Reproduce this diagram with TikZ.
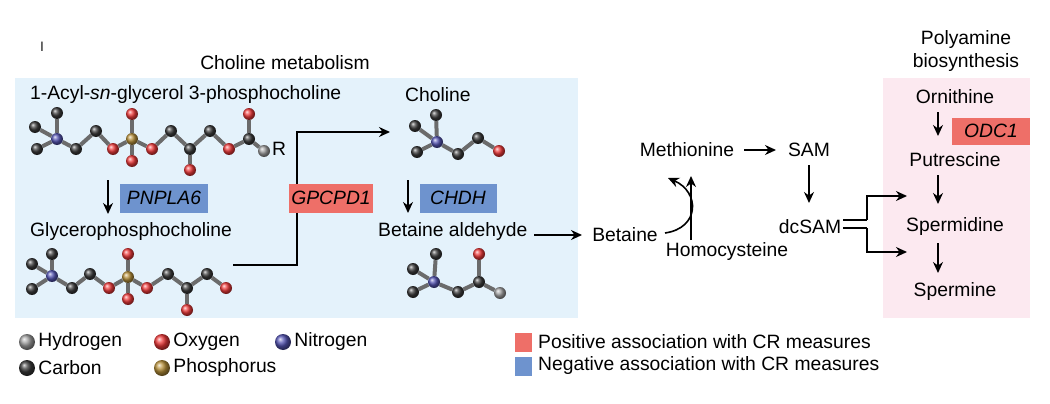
\documentclass[tikz,border=0pt]{standalone}
\usepackage{fontspec}
\setmainfont{Liberation Sans}
\usetikzlibrary{arrows.meta,positioning}
\definecolor{boxblue}{HTML}{E4F2FB}
\definecolor{boxpink}{HTML}{FCE9F0}
\definecolor{posred}{HTML}{EE6F68}
\definecolor{negblue}{HTML}{6E93CE}
\definecolor{atomC}{HTML}{3A3A3A}
\definecolor{atomH}{HTML}{A0A0A0}
\definecolor{atomO}{HTML}{F03A3A}
\definecolor{atomN}{HTML}{5555B5}
\definecolor{atomP}{HTML}{B8913A}
\pgfdeclarelayer{bg}
\pgfdeclarelayer{bonds}
\pgfsetlayers{bg,bonds,main}
\tikzset{
    lbl/.style={inner sep=0pt,font=\fontsize{19.3}{22}\selectfont},
    enz/.style={minimum height=29pt,inner sep=2pt,font=\fontsize{19.3}{22}\selectfont\itshape},
    atom/.style={circle,inner sep=0pt,minimum size=12pt},
    bond/.style={line width=4pt,draw=atomC!75},
    arr/.style={-{Stealth[length=11pt,width=10pt]},line width=1.6pt},
    flow/.style={line width=1.6pt},
}
\begin{document}
\begin{tikzpicture}[x=1pt,y=-1pt]
\useasboundingbox (0,0) rectangle (1050,404);
\begin{pgfonlayer}{bg}
\fill[boxblue] (15,78) rectangle (578,318);
\fill[boxpink] (883,78) rectangle (1030,318);
\end{pgfonlayer}
\node[lbl,font=\fontsize{13}{14}\selectfont] (tag) at (42,47) {l};
\node[lbl] (cholmet) at (285,63) {Choline metabolism};
\node[lbl,align=center,font=\fontsize{19.3}{23}\selectfont] (polyam) at (966,51) {Polyamine\\biosynthesis};
% choline metabolism
\node[lbl,anchor=west] (acyl) at (30,95) {1-Acyl-\textit{sn}-glycerol 3-phosphocholine};
\foreach \n/\c/\x/\y in {m1/C/57/113,m2/C/35/127,m3/C/37/149,n/N/57/139,c1/C/76/149,c2/C/96/131,o1/O/113/149,p/P/132/139,o2/O/132/114,o3/O/132/161,o4/O/152/149,c3/C/171/131,c4/C/190/149,o5/O/190/170,c5/C/210/131,o6/O/229/149,c6/C/249/139,o7/O/249/114,h/H/264/151}
    \node[atom,ball color=atom\c] (a\n) at (\x,\y) {};
\begin{pgfonlayer}{bonds}
\foreach \a/\b in {m1/n,m2/n,m3/n,n/c1,c1/c2,c2/o1,o1/p,p/o2,p/o3,p/o4,o4/c3,c3/c4,c4/o5,c4/c5,c5/o6,o6/c6,c6/o7,c6/h}
    \draw[bond] (a\a) -- (a\b);
\end{pgfonlayer}
\node[lbl] (rgrp) at (279,149) {R};
\coordinate (pa1) at (108,180);
\coordinate (pa2) at (108,214);
\draw[arr,line width=2.6pt] (pa1) -- (pa2);
\node[enz,fill=negblue,minimum width=88pt] (pnpla) at (164,198) {PNPLA6};
\node[lbl,anchor=west] (gpc) at (30,232) {Glycerophosphocholine};
\foreach \n/\c/\x/\y in {m1/C/52/254,m2/C/32/264,m3/C/32/289,n/N/52/276,c1/C/72/288,c2/C/90/274,o1/O/109/288,p/P/128/277,o2/O/128/254,o3/O/128/299,o4/O/147/288,c3/C/168/274,c4/C/187/288,o5/O/187/310,c5/C/207/274,o6/O/226/288}
    \node[atom,ball color=atom\c] (b\n) at (\x,\y) {};
\begin{pgfonlayer}{bonds}
\foreach \a/\b in {m1/n,m2/n,m3/n,n/c1,c1/c2,c2/o1,o1/p,p/o2,p/o3,p/o4,o4/c3,c3/c4,c4/o5,c4/c5,c5/o6}
    \draw[bond] (b\a) -- (b\b);
\end{pgfonlayer}
\coordinate (gp1) at (233,265);
\coordinate (gp2) at (297,265);
\coordinate (gp3) at (297,132);
\coordinate (gp4) at (390,132);
\draw[arr] (gp1) -- (gp2) -- (gp3) -- (gp4);
\node[enz,fill=posred,minimum width=80pt] (gpcpd) at (331,198) {GPCPD1};
\node[lbl,anchor=west] (chol) at (405,95) {Choline};
\foreach \n/\c/\x/\y in {m1/C/436/115,m2/C/415/126,m3/C/417/152,n/N/437/142,c1/C/458/154,c2/C/478/138,o1/O/499/151}
    \node[atom,ball color=atom\c] (c\n) at (\x,\y) {};
\begin{pgfonlayer}{bonds}
\foreach \a/\b in {m1/n,m2/n,m3/n,n/c1,c1/c2,c2/o1}
    \draw[bond] (c\a) -- (c\b);
\end{pgfonlayer}
\coordinate (ch1) at (408,180);
\coordinate (ch2) at (408,213);
\draw[arr] (ch1) -- (ch2);
\node[enz,fill=negblue,minimum width=77pt] (chdh) at (458,198) {CHDH};
\node[lbl,anchor=west] (betald) at (378,232) {Betaine aldehyde};
\foreach \n/\c/\x/\y in {m1/C/436/254,m2/C/413/269,m3/C/413/292,n/N/434/282,c1/C/458/292,c2/C/479/282,o1/O/479/254,h/H/500/293}
    \node[atom,ball color=atom\c] (d\n) at (\x,\y) {};
\begin{pgfonlayer}{bonds}
\foreach \a/\b in {m1/n,m2/n,m3/n,n/c1,c1/c2,c2/o1,c2/h}
    \draw[bond] (d\a) -- (d\b);
\end{pgfonlayer}
% methionine cycle
\node[lbl] (betaine) at (625,235) {Betaine};
\node[lbl] (meth) at (687,150) {Methionine};
\node[lbl] (sam) at (809,150) {SAM};
\node[lbl] (dcsam) at (810,227) {dcSAM};
\node[lbl] (hcy) at (727,252) {Homocysteine};
\coordinate (ba1) at (534,235);
\coordinate (ba2) at (582,235);
\draw[arr] (ba1) -- (ba2);
\draw[arr] (744,150) -- (776,150);
\draw[arr] (809,165) -- (809,203);
\coordinate (hc1) at (691,240);
\coordinate (hc2) at (691,176);
\draw[arr] (hc1) -- (hc2);
\coordinate (bt1) at (665,233);
\coordinate (bt2) at (668,178);
\draw[arr] (bt1) .. controls (700,228) and (700,192) .. (bt2);
% polyamines
\coordinate (ds1) at (843,220);
\coordinate (ds2) at (843,228);
\draw[flow] (ds1) -- (867,220) coordinate (dk1);
\draw[flow] (ds2) -- (867,228) coordinate (dk2);
\draw[arr] (dk1) -- (867,196) -- (907,196);
\draw[arr] (dk2) -- (867,252) -- (907,252);
\node[lbl] (orn) at (955,97) {Ornithine};
\node[lbl] (put) at (955,160) {Putrescine};
\node[lbl] (spd) at (955,227) {Spermidine};
\node[lbl] (spm) at (955,292) {Spermine};
\draw[arr] (938,112) -- (938,136);
\draw[arr] (938,175) -- (938,204);
\draw[arr] (938,243) -- (938,273);
\node[enz,fill=posred,minimum width=78pt,minimum height=27pt] (odc) at (991,131) {ODC1};
% legend
\foreach \c/\x/\y/\t in {H/27/342/Hydrogen,O/162/342/Oxygen,N/283/342/Nitrogen,C/27/368/Carbon,P/162/368/Phosphorus}
    \node[atom,minimum size=16pt,ball color=atom\c,label={[lbl,anchor=west,xshift=3pt]east:\t}] (leg\c) at (\x,\y) {};
\fill[posred] (515,333) rectangle (532,352);
\fill[negblue] (515,357) rectangle (532,376);
\node[lbl,anchor=west] (legpos) at (538,342) {Positive association with CR measures};
\node[lbl,anchor=west] (legneg) at (538,366) {Negative association with CR measures};
\end{tikzpicture}
\end{document}
